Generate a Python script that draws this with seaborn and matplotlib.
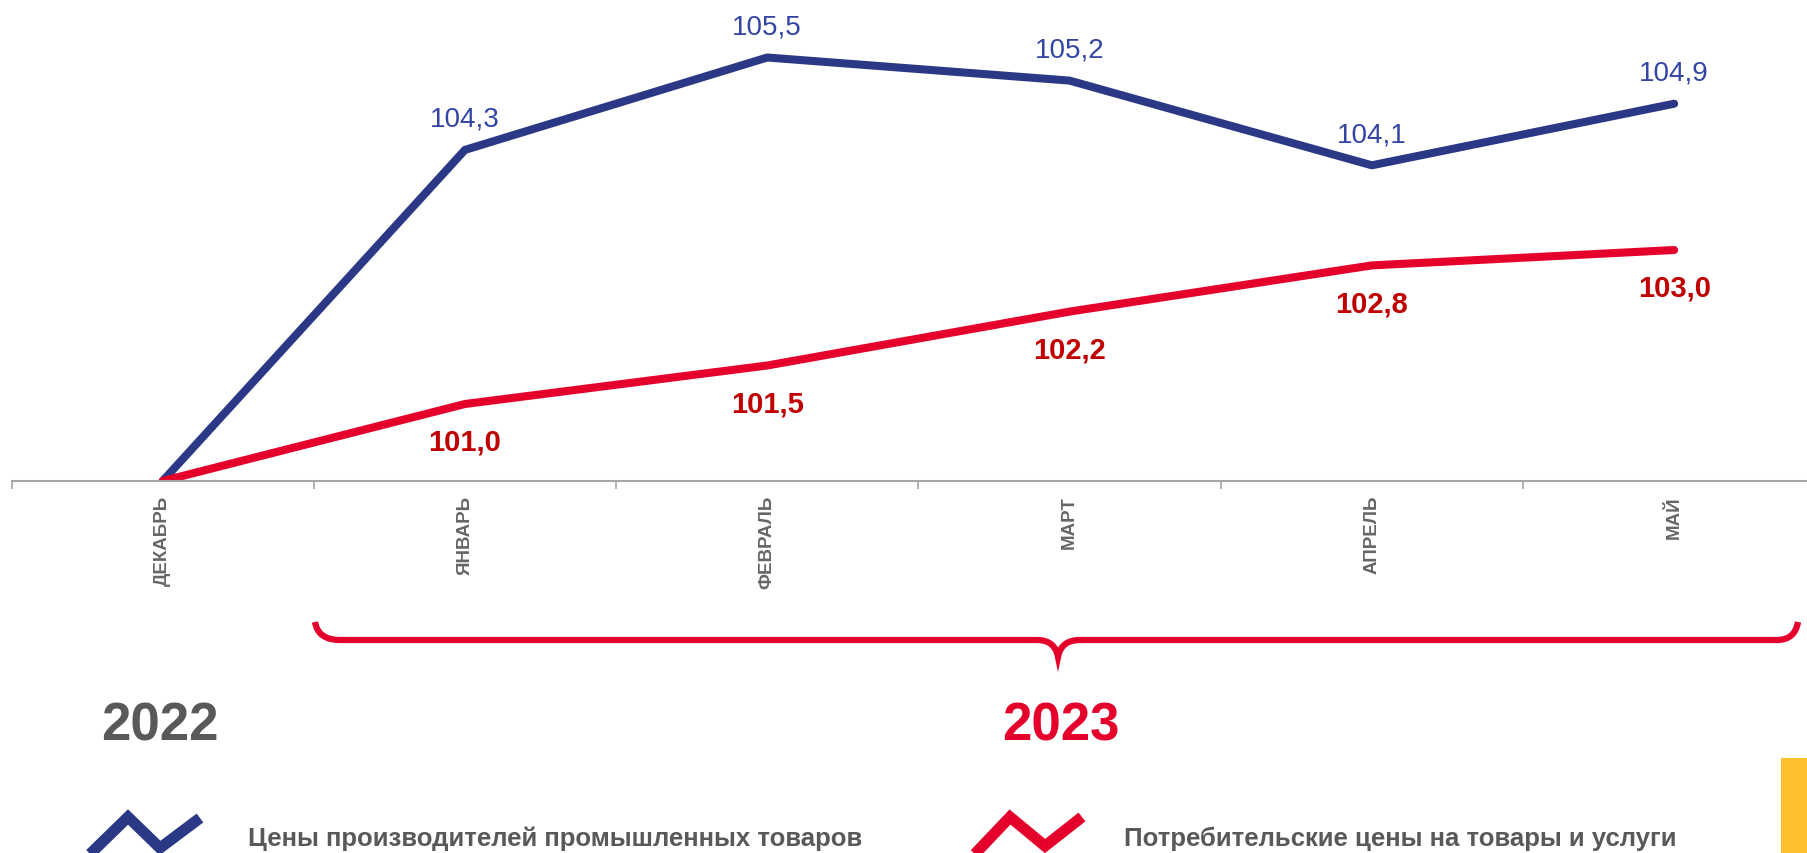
import numpy as np
import pandas as pd
import matplotlib
matplotlib.use("Agg")
import matplotlib.pyplot as plt
import seaborn as sns
from matplotlib.path import Path
from matplotlib.patches import PathPatch, Rectangle
from matplotlib.lines import Line2D

# ---- data ----
months = ["ДЕКАБРЬ", "ЯНВАРЬ", "ФЕВРАЛЬ", "МАРТ", "АПРЕЛЬ", "МАЙ"]
producer_prices = [100.0, 104.3, 105.5, 105.2, 104.1, 104.9]
consumer_prices = [100.0, 101.0, 101.5, 102.2, 102.8, 103.0]
producer_labels = [None, "104,3", "105,5", "105,2", "104,1", "104,9"]
consumer_labels = [None, "101,0", "101,5", "102,2", "102,8", "103,0"]
series_names = ["Цены производителей промышленных товаров",
                "Потребительские цены на товары и услуги"]
year_labels = ["2022", "2023"]

BLUE = "#2B3886"
BLUE_TXT = "#3345A3"
RED = "#E4002B"
RED_TXT = "#C00000"
GRAY = "#595959"

sns.set_theme(style="white")
plt.rcParams["font.family"] = ["Liberation Sans", "DejaVu Sans"]

W, H = 1808, 854
fig = plt.figure(figsize=(W / 100, H / 100), dpi=100)

def fx(x):
    return x / W

def fy(y):
    return 1 - y / H

# axes geometry (pixels)
ax_left = 11.5
cat_w = 302.3
base_y = 482
px_per_unit = 77.0
ax = fig.add_axes([fx(ax_left), fy(base_y), 6 * cat_w / W, base_y / H])

df = pd.DataFrame({
    "x": list(range(len(months))) * 2,
    "value": producer_prices + consumer_prices,
    "series": [series_names[0]] * len(months) + [series_names[1]] * len(months),
})
sns.lineplot(data=df, x="x", y="value", hue="series",
             palette={series_names[0]: BLUE, series_names[1]: RED},
             linewidth=5.8, legend=False, ax=ax, sort=False)
for ln in ax.lines:
    ln.set_solid_capstyle("round")
    ln.set_solid_joinstyle("round")

ax.set_xlim(-0.5, len(months) - 0.5)
ax.set_ylim(100, 100 + base_y / px_per_unit)

# data labels
for i, (v, lab) in enumerate(zip(producer_prices, producer_labels)):
    if lab:
        ax.annotate(lab, (i, v), xytext=(0, 13), textcoords="offset points",
                    ha="center", va="bottom", fontsize=20, color=BLUE_TXT)
for i, (v, lab) in enumerate(zip(consumer_prices, consumer_labels)):
    if lab:
        ax.annotate(lab, (i, v), xytext=(0, -17), textcoords="offset points",
                    ha="center", va="top", fontsize=21, color=RED_TXT,
                    fontweight="bold")

# axes styling
for s in ["top", "right", "left"]:
    ax.spines[s].set_visible(False)
ax.spines["bottom"].set_color("#A6A6A6")
ax.spines["bottom"].set_linewidth(1.5)
ax.set_yticks([])
ax.set_xticks(range(len(months)))
ax.set_xticklabels(months, rotation=90, fontsize=13.5, fontweight="bold",
                   color="#666666")
ax.set_xticks(np.arange(-0.5, len(months) + 0.5, 1), minor=True)
ax.tick_params(axis="x", which="major", length=0, pad=10)
ax.tick_params(axis="x", which="minor", length=6, width=1.2,
               color="#A6A6A6", bottom=True)
ax.set_xlabel("")
ax.set_ylabel("")
ax.patch.set_alpha(0)

# brace under 2023 months
verts = [(315, 623), (318, 641), (340, 641),
         (1037, 641), (1055, 641), (1058, 658),
         (1061, 641), (1080, 641),
         (1777, 641), (1795, 641), (1798, 623)]
codes = [Path.MOVETO, Path.CURVE3, Path.CURVE3,
         Path.LINETO, Path.CURVE3, Path.CURVE3,
         Path.CURVE3, Path.CURVE3,
         Path.LINETO, Path.CURVE3, Path.CURVE3]
brace = Path([(fx(x), fy(y)) for x, y in verts], codes)
fig.patches.append(PathPatch(brace, transform=fig.transFigure, fill=False,
                             edgecolor=RED, linewidth=4.5, capstyle="butt"))

# year labels
fig.text(fx(160), fy(727), year_labels[0], ha="center", va="center",
         fontsize=38, fontweight="bold", color=GRAY)
fig.text(fx(1061), fy(727), year_labels[1], ha="center", va="center",
         fontsize=38, fontweight="bold", color=RED)

# legend icons
icon_blue = [(87, 858), (128, 818), (160, 849), (200, 819)]
icon_red = [(972, 858), (1010, 818), (1045, 847), (1082, 818)]
for pts, col in [(icon_blue, BLUE), (icon_red, RED)]:
    fig.add_artist(Line2D([fx(p[0]) for p in pts], [fy(p[1]) for p in pts],
                          transform=fig.transFigure, color=col, linewidth=8,
                          solid_joinstyle="miter", solid_capstyle="butt"))

fig.text(fx(248), fy(846), series_names[0], ha="left", va="baseline",
         fontsize=18.5, fontweight="bold", color=GRAY)
fig.text(fx(1124), fy(846), series_names[1], ha="left", va="baseline",
         fontsize=18.5, fontweight="bold", color=GRAY)

# yellow corner tab
fig.patches.append(Rectangle((fx(1781), fy(854)), fx(27), 95 / H,
                             transform=fig.transFigure, color="#FDC02F",
                             linewidth=0))

fig.savefig("out.png", dpi=100, facecolor="white")
